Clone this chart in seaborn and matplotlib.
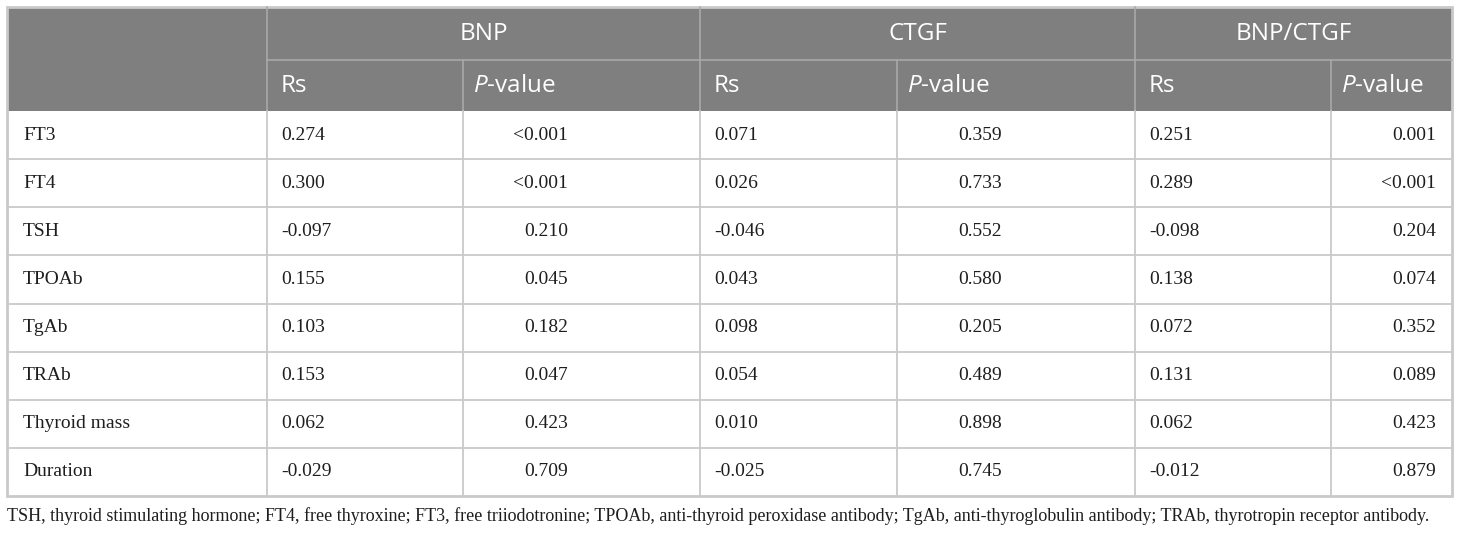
import matplotlib
matplotlib.use("Agg")
import matplotlib.pyplot as plt
import seaborn as sns
import pandas as pd
from matplotlib.patches import Rectangle

sns.set_theme(style="white")
plt.rcParams["mathtext.fontset"] = "custom"
plt.rcParams["mathtext.it"] = "Open Sans:italic"
plt.rcParams["mathtext.rm"] = "Open Sans"

# ------------------------------------------
# Table data
# ------------------------------------------
rows = ["FT3", "FT4", "TSH", "TPOAb", "TgAb", "TRAb", "Thyroid mass", "Duration"]
groups = ["BNP", "CTGF", "BNP/CTGF"]

bnp_rs = [0.274, 0.300, -0.097, 0.155, 0.103, 0.153, 0.062, -0.029]
bnp_p = ["<0.001", "<0.001", "0.210", "0.045", "0.182", "0.047", "0.423", "0.709"]
ctgf_rs = [0.071, 0.026, -0.046, 0.043, 0.098, 0.054, 0.010, -0.025]
ctgf_p = ["0.359", "0.733", "0.552", "0.580", "0.205", "0.489", "0.898", "0.745"]
ratio_rs = [0.251, 0.289, -0.098, 0.138, 0.072, 0.131, 0.062, -0.012]
ratio_p = ["0.001", "<0.001", "0.204", "0.074", "0.352", "0.089", "0.423", "0.879"]

caption = ("TSH, thyroid stimulating hormone; FT4, free thyroxine; FT3, free triiodotronine; "
           "TPOAb, anti-thyroid peroxidase antibody; TgAb, anti-thyroglobulin antibody; "
           "TRAb, thyrotropin receptor antibody.")

df = pd.DataFrame({
    "BNP_Rs": [f"{v:.3f}" for v in bnp_rs], "BNP_P": bnp_p,
    "CTGF_Rs": [f"{v:.3f}" for v in ctgf_rs], "CTGF_P": ctgf_p,
    "RATIO_Rs": [f"{v:.3f}" for v in ratio_rs], "RATIO_P": ratio_p,
}, index=rows)

# ------------------------------------------
# Layout (pixels)
# ------------------------------------------
W, H = 1460, 534
col_x = [7, 267, 463, 700, 897, 1135, 1331, 1452]
y_top, y_h1, y_h2, y_bot = 7, 60, 111, 496
row_h = (y_bot - y_h2) / len(rows)

header_bg = "#7f7f7f"
header_line = "#a9a9a9"
grid = "#c9c9c9"
text_c = "#1e1e1e"
serif = ["Liberation Serif", "DejaVu Serif"]
sans = ["Open Sans", "DejaVu Sans"]

fig = plt.figure(figsize=(W / 100, H / 100), dpi=100)
ax = fig.add_axes([0, 0, 1, 1])
ax.set_xlim(0, W)
ax.set_ylim(H, 0)
ax.axis("off")

# header block
ax.add_patch(Rectangle((col_x[0], y_top), col_x[-1] - col_x[0], y_h2 - y_top,
                       facecolor=header_bg, edgecolor="none"))
ax.plot([col_x[1], col_x[-1]], [y_h1, y_h1], color=header_line, lw=1.2)
for i, x in enumerate(col_x[1:-1], start=1):
    y0 = y_top if i % 2 == 1 else y_h1
    ax.plot([x, x], [y0, y_h2], color=header_line, lw=1.2)

for g, name in enumerate(groups):
    xc = (col_x[1 + 2 * g] + col_x[3 + 2 * g]) / 2
    ax.text(xc, (y_top + y_h1) / 2, name, color="white", fontsize=17.5,
            family=sans, ha="center", va="center")
    ax.text(col_x[1 + 2 * g] + 14, (y_h1 + y_h2) / 2, "Rs", color="white",
            fontsize=17.5, family=sans, ha="left", va="center")
    ax.text(col_x[2 + 2 * g] + 10, (y_h1 + y_h2) / 2, r"$\mathit{P}$-value",
            color="white", fontsize=17.5, family=sans, ha="left", va="center")

# body grid
for r in range(1, len(rows)):
    y = y_h2 + r * row_h
    ax.plot([col_x[0], col_x[-1]], [y, y], color=grid, lw=1.3)
for x in col_x[1:-1]:
    ax.plot([x, x], [y_h2, y_bot], color=grid, lw=1.3)
ax.add_patch(Rectangle((col_x[0], y_top), col_x[-1] - col_x[0], y_bot - y_top,
                       facecolor="none", edgecolor=grid, lw=2))

# body text
for r, name in enumerate(df.index):
    yc = y_h2 + (r + 0.5) * row_h
    ax.text(col_x[0] + 16, yc, name, color=text_c, fontsize=14, family=serif,
            ha="left", va="center")
    for c, val in enumerate(df.loc[name]):
        if c % 2 == 0:
            ax.text(col_x[1 + c] + 14, yc, val, color=text_c, fontsize=14,
                    family=serif, ha="left", va="center")
        else:
            ax.text(col_x[1 + c] + 105, yc, val, color=text_c, fontsize=14,
                    family=serif, ha="right", va="center")

# caption, shrunk to the reference width
cap = ax.text(col_x[0], 516, caption, color=text_c, fontsize=13.3, family=serif,
              ha="left", va="center")
fig.canvas.draw()
w = cap.get_window_extent().width
cap.set_fontsize(13.3 * 1433 / w)

fig.savefig("out.png", dpi=100)
